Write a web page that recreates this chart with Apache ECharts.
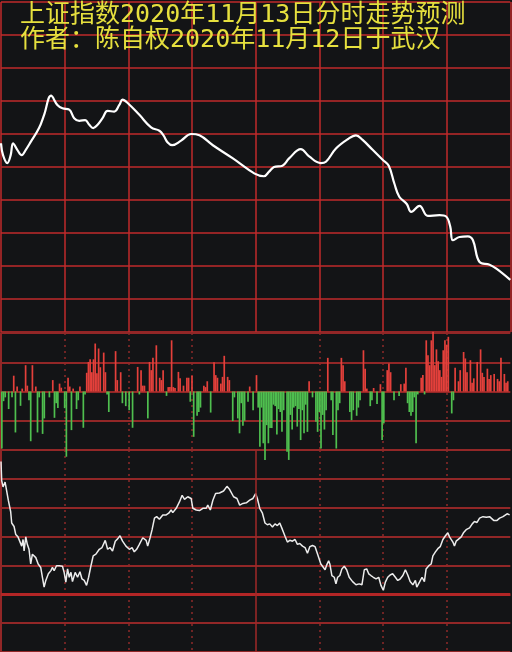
<!DOCTYPE html>
<html><head><meta charset="utf-8">
<script src="https://cdn.jsdelivr.net/npm/echarts@6/dist/echarts.min.js"></script>
<style>html,body{margin:0;padding:0;background:#131416;}#c{width:512px;height:652px;}</style>
</head><body><div id="c"></div>
<script>
// ---- texts ----
const titleLines = ['上证指数2020年11月13日分时走势预测', '作者：陈自权2020年11月12日于武汉'];

// ---- top panel: predicted index (slot 0..300, index value) ----
const pricePoints = [
[0,3328.6],[1.2,3326.8],[3.7,3325.6],[5.7,3326.8],[7.1,3328.6],[9.6,3327.6],[12.2,3326.8],[14.6,3327.6],[17.5,3328.8],[22.4,3330.9],
[25.4,3332.9],[29.5,3335.8],[33.2,3334.4],[36.2,3333.9],[40.2,3333.7],[43.1,3332.4],[46.1,3332.0],[49.6,3332.1],[52.0,3331.4],[54.3,3330.9],
[56.9,3331.4],[59.8,3332.4],[62.8,3333.5],[66.7,3333.4],[69.7,3334.4],[71.6,3335.2],[74.6,3334.7],[81.5,3332.9],[88.4,3331.0],[93.3,3330.5],
[95.7,3329.8],[98.2,3328.7],[100.8,3328.3],[106.1,3329.0],[112.0,3330.0],[116.9,3329.8],[124.8,3328.3],[136.6,3326.3],[149.4,3324.0],[154.9,3323.6],
[157.9,3324.3],[160.8,3325.0],[165.8,3325.2],[169.7,3326.3],[176.6,3327.7],[181.5,3326.6],[188.4,3325.6],[191.4,3325.8],[197.3,3327.8],[204.2,3329.2],
[209.1,3329.8],[213.0,3329.1],[218.9,3327.6],[224.8,3326.1],[228.4,3325.2],[231.7,3322.5],[234.6,3320.5],[239.0,3319.4],[241.6,3318.2],[246.5,3319.1],
[251.4,3317.6],[258.3,3317.7],[262.2,3317.5],[264.6,3316.0],[266.2,3313.9],[270.1,3314.4],[275.0,3314.5],[278.0,3313.9],[281.9,3310.6],[287.8,3310.2],
[291.8,3309.6],[300,3307.9]
];

// ---- middle panel: flow bars (slot index, value) ----
const flowPoints = [
[0,-1.95],[1,-0.33],[2,-0.2],[4,-0.6],[6,-0.2],[7,0.54],[8,-1.4],[9,0.17],[11,-0.49],[12,0.1],
[14,0.9],[15,0.2],[16,-0.3],[17,-1.7],[18,0.9],[20,0.17],[21,-1.4],[22,-0.2],[24,-1.45],[25,-0.92],
[28,-0.2],[30,0.39],[31,-0.9],[32,-0.4],[33,-0.56],[34,0.27],[35,0.13],[37,-0.57],[38,-2.23],[39,0.47],
[40,0.17],[41,-1.32],[42,0.1],[44,-0.6],[45,-0.3],[46,0.17],[48,-1.24],[49,-0.1],[50,0.64],[51,1.01],
[52,1.1],[53,0.66],[54,1.1],[55,1.64],[56,0.62],[57,1.47],[58,0.83],[60,1.33],[61,0.66],[62,-0.1],
[63,-0.7],[67,1.38],[68,0.39],[70,0.66],[71,-0.4],[73,-0.5],[75,-0.64],[77,-1.24],[80,0.84],[81,-0.1],
[82,0.73],[83,0.2],[84,0.2],[86,-0.92],[87,1.01],[88,0.73],[89,1.15],[91,1.58],[93,0.47],[94,0.39],
[95,0.73],[97,-0.15],[98,0.15],[99,0.15],[100,1.75],[101,0.15],[102,0.12],[104,0.67],[105,0.45],[107,0.2],
[109,0.47],[110,0.47],[111,-0.35],[112,0.54],[113,-1.55],[115,-0.83],[116,-0.7],[117,-0.55],[119,0.2],[120,0.15],
[121,0.35],[123,-0.72],[125,1.0],[126,0.56],[127,0.47],[129,0.27],[130,0.5],[131,1.22],[133,0.5],[134,0.39],
[136,-1.01],[137,-0.2],[139,-0.92],[140,-1.43],[141,-0.4],[142,-1.17],[143,-1.0],[145,-0.35],[146,0.17],[148,-0.64],
[150,0.56],[151,-0.55],[152,-1.89],[153,-0.55],[154,-1.77],[155,-2.34],[156,-1.15],[157,-1.77],[158,-1.25],[159,-1.25],
[160,-0.45],[161,-0.5],[162,-1.47],[163,-0.6],[164,-0.7],[165,-1.38],[166,-0.64],[168,-2.06],[169,-2.34],[170,-0.8],
[171,-1.3],[172,-0.55],[173,-0.5],[174,-1.2],[175,-0.6],[176,-1.66],[177,-0.64],[178,-1.43],[179,-0.45],[180,-1.38],
[181,0.35],[183,-0.2],[185,-1.03],[186,-1.38],[187,-0.7],[188,-1.95],[189,-0.8],[190,-1.3],[191,-0.64],[192,1.15],
[194,-0.3],[195,-1.49],[197,-1.95],[198,-0.64],[199,-0.4],[200,1.15],[201,0.9],[202,0.35],[205,-0.7],[206,-0.98],
[207,-0.64],[209,-0.83],[210,-0.55],[211,-0.3],[213,1.41],[214,0.78],[215,0.1],[217,-0.5],[218,-0.3],[219,0.12],
[221,-0.43],[223,0.25],[224,-1.66],[225,-1.09],[227,0.73],[228,0.96],[229,0.66],[231,-0.3],[234,-0.15],[235,0.25],
[237,0.27],[238,0.81],[239,-0.4],[240,-0.7],[241,-0.83],[242,-0.7],[243,-0.2],[244,-1.77],[245,-0.1],[247,0.47],
[248,0.56],[249,-0.1],[250,1.75],[251,1.24],[252,0.9],[253,1.75],[254,2.04],[255,0.9],[256,1.44],[257,1.03],
[258,0.73],[259,0.5],[260,1.41],[261,1.75],[262,1.6],[263,1.87],[265,-0.75],[266,-0.3],[267,0.81],[269,0.35],
[270,0.73],[272,1.35],[273,1.13],[274,0.66],[276,1.07],[277,0.3],[278,0.45],[280,1.01],[282,1.44],[283,0.64],
[284,0.5],[286,0.78],[287,0.43],[288,0.56],[290,0.6],[292,0.43],[293,0.35],[294,1.15],[296,0.6],[297,0.3],
[298,0.35]
];

// ---- bottom panel: trend indicator (slot, value) ----
const trendPoints = [
[0,56],[0.4,49.4],[1.2,47.2],[2.4,48.9],[3.1,46.6],[4.3,42.6],[5.7,38.6],[6.3,34.7],[7.7,33.5],[8.7,30.7],
[10.0,29.9],[11.0,30.1],[12.2,26.7],[13.0,29.0],[13.6,25.0],[14.6,29.9],[15.5,27.3],[16.5,25.6],[17.5,20.5],[18.5,23.9],
[20.5,22.7],[21.9,20.5],[23.4,19.3],[24.4,15.9],[25.4,12.5],[26.4,14.8],[27.9,17.1],[29.4,18.2],[30.3,19.3],[31.3,18.2],
[32.7,19.9],[34.3,19.9],[36.2,19.7],[37.2,17.6],[38.2,14.2],[39.2,18.8],[40.2,15.9],[41.2,17.6],[42.1,14.4],[43.7,17.6],
[45.1,15.9],[46.5,17.8],[47.7,15.3],[49.0,14.8],[50.4,13.1],[51.6,15.9],[53.0,19.9],[54.3,23.3],[55.9,23.9],[57.9,25.6],
[59.5,26.2],[61.4,28.7],[62.8,25.6],[64.2,26.2],[65.7,25.0],[67.3,28.4],[68.7,29.2],[70.1,30.3],[71.6,28.4],[73.6,26.7],
[75.6,25.6],[77.2,26.2],[78.5,24.7],[79.9,25.6],[81.5,27.3],[83.5,29.6],[85.5,28.7],[86.4,26.7],[87.8,29.6],[89.0,32.4],
[90.4,36.4],[91.7,36.9],[93.3,36.0],[95.3,37.5],[97.3,37.5],[98.8,38.1],[100.2,39.2],[101.2,38.3],[103.2,39.8],[105.1,42.0],
[106.7,44.3],[108.1,42.9],[110.0,43.8],[112.0,43.2],[113.0,39.8],[115.0,39.2],[116.9,39.0],[118.9,39.8],[120.9,39.8],[121.8,40.9],
[123.3,39.2],[124.8,42.6],[126.4,44.9],[128.7,45.1],[131.1,45.8],[133.1,47.4],[134.7,46.3],[135.7,46.6],[137.0,43.8],[139.0,43.2],
[140.6,40.9],[142.5,41.5],[144.5,41.7],[146.5,42.6],[148.4,43.2],[150.0,44.9],[151.0,43.2],[152.4,39.8],[154.0,38.1],[155.5,34.7],
[156.9,34.1],[158.3,34.4],[159.9,33.3],[161.4,34.4],[162.8,33.8],[164.2,34.7],[165.8,32.4],[167.3,30.1],[168.7,28.1],[170.1,28.7],
[171.7,28.4],[173.2,29.0],[174.6,27.3],[176.0,27.6],[177.6,26.7],[179.1,26.2],[180.5,24.2],[181.9,26.5],[183.5,26.9],[185.0,26.5],
[186.5,23.9],[187.4,23.3],[188.4,20.5],[189.4,19.7],[190.9,18.5],[191.8,20.1],[193.0,21.6],[193.7,20.5],[194.9,16.5],[196.3,15.9],
[197.3,13.6],[198.3,15.9],[199.6,16.5],[200.8,18.8],[202.2,19.7],[203.6,18.5],[205.1,15.9],[207.1,14.4],[209.1,13.3],[211.0,13.6],
[212.6,13.3],[214.0,18.5],[215.4,18.8],[216.6,17.1],[217.9,16.5],[219.3,15.9],[220.9,15.3],[222.5,15.9],[223.8,13.1],[225.2,11.4],
[226.4,14.2],[227.8,15.9],[229.2,16.7],[230.7,17.1],[232.3,15.9],[233.7,14.8],[235.1,15.3],[236.7,16.5],[238.2,18.5],[239.6,16.7],
[241.0,14.4],[242.6,13.3],[244.1,14.8],[244.9,12.5],[246.5,14.2],[248.0,15.9],[249.4,14.4],[250.4,18.8],[252.0,19.9],[253.4,20.5],
[254.4,23.3],[255.9,24.7],[257.3,25.8],[258.7,26.5],[260.3,29.0],[261.8,30.3],[263.2,31.3],[264.2,29.9],[265.2,29.6],[266.2,28.1],
[267.1,26.7],[268.1,28.4],[269.7,29.2],[271.1,29.9],[272.4,31.3],[274.0,32.4],[276.0,33.0],[277.6,34.4],[278.9,35.2],[280.4,34.9],
[281.9,36.4],[283.9,36.9],[285.9,36.7],[287.8,36.9],[290.2,35.6],[292.2,35.6],[293.7,36.4],[295.7,36.9],[298.1,37.9],[299.6,37.5]
];

// ---- styles ----
const BG = '#131416';
const GRID_TOP = '#c12a2b';
const GRID_LOW = '#922727';
const DOT = '#8e2a2a';
const NONE = 'rgba(0,0,0,0)';
const RED = '#e4403b';
const GREEN = '#4fbf4f';
const YELLOW = '#e6e03e';
const FONT = '"DejaVu Sans Mono", "Noto Sans CJK SC", sans-serif';

const chart = echarts.init(document.getElementById('c'), null, {renderer: 'canvas'});

function xAx(gi, solid) {
  return {
    type: 'value', gridIndex: gi, min: 0, max: 300, interval: 37.5,
    axisLine: {show: false}, axisTick: {show: false}, axisLabel: {show: false},
    splitLine: solid
      ? {show: true, lineStyle: {color: GRID_TOP, width: 1.5}}
      : {show: true, showMinLine: true, showMaxLine: true,
         lineStyle: {color: [NONE, DOT, DOT, DOT, NONE, DOT, DOT, DOT, NONE], width: 1.5, type: [2, 4]}}
  };
}

const option = {
  backgroundColor: BG,
  animation: false,
  title: [
    {text: titleLines[0], left: 20, top: 3, padding: 0,
     textStyle: {color: YELLOW, fontSize: 25, fontWeight: 'normal', fontFamily: FONT}},
    {text: titleLines[1], left: 20, top: 28, padding: 0,
     textStyle: {color: YELLOW, fontSize: 25, fontWeight: 'normal', fontFamily: FONT}}
  ],
  grid: [
    {left: 1, top: 2, width: 509.3, height: 330},
    {left: 1, top: 333, width: 509.3, height: 117},
    {left: 1, top: 450, width: 509.3, height: 204.75}
  ],
  xAxis: [xAx(0, true), xAx(1, false), xAx(2, false)],
  yAxis: [
    {type: 'value', gridIndex: 0, min: 3300, max: 3350, interval: 5,
     axisLine: {show: false}, axisTick: {show: false}, axisLabel: {show: false},
     splitLine: {lineStyle: {color: GRID_TOP, width: 1.5}}},
    {type: 'value', gridIndex: 1, min: -2, max: 2, interval: 1, position: 'right',
     axisLine: {show: true, lineStyle: {color: GRID_LOW, width: 2}}, axisTick: {show: false}, axisLabel: {show: false},
     splitLine: {lineStyle: {color: GRID_LOW, width: 2}}},
    {type: 'value', gridIndex: 2, min: -10, max: 60, interval: 10, position: 'right',
     axisLine: {show: true, lineStyle: {color: GRID_LOW, width: 2}}, axisTick: {show: false}, axisLabel: {show: false},
     splitLine: {lineStyle: {color: GRID_LOW, width: 2}}}
  ],
  series: [
    {type: 'line', xAxisIndex: 0, yAxisIndex: 0, data: pricePoints, smooth: 0.4,
     showSymbol: false, lineStyle: {color: '#ffffff', width: 2.2}},
    {type: 'bar', xAxisIndex: 1, yAxisIndex: 1, clip: false, barWidth: 1.7,
     data: flowPoints.map(p => [p[0] + 0.5, p[1]]),
     itemStyle: {color: p => (p.value[1] >= 0 ? RED : GREEN)}},
    {type: 'line', xAxisIndex: 2, yAxisIndex: 2, data: trendPoints,
     showSymbol: false, lineStyle: {color: '#ececec', width: 1.5},
     markLine: {silent: true, symbol: ['none', 'none'], label: {show: false},
       data: [
         {yAxis: 10, lineStyle: {color: '#b32626', width: 3, type: 'solid'}},
         {xAxis: 150, lineStyle: {color: '#a02828', width: 1.5, type: 'solid'}}
       ]}}
  ]
};
chart.setOption(option);
</script>
</body></html>
